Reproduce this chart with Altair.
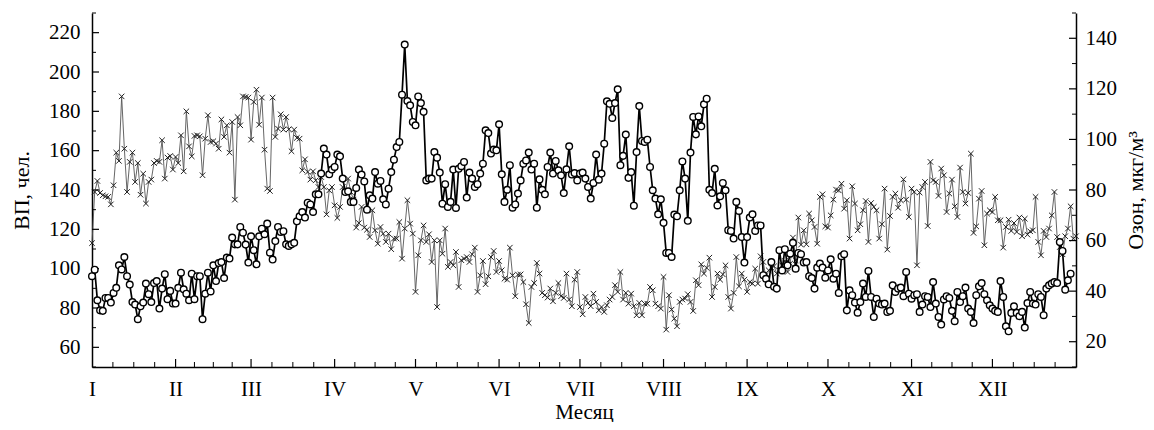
import json
import altair as alt
import pandas as pd

# Ozone (circles, right axis), daily values from 1 January
ozone = [
    45.9, 48.5, 36.4, 32.4, 32.2, 37.3, 37.3, 35.5, 39.3, 41.3, 50.2, 48.6, 53.5, 45.9, 42.6, 35.7,
    34.7, 28.9, 34.0, 35.5, 43.0, 38.8, 35.7, 43.2, 44.0, 33.1, 41.0, 46.7, 36.8, 40.1, 35.1, 35.1,
    41.3, 47.3, 40.7, 39.0, 36.4, 46.9, 36.8, 45.9, 45.9, 28.9, 39.0, 47.3, 39.9, 50.2,
    44.0, 51.1, 51.5, 45.2, 53.3, 52.9, 61.2, 58.5, 58.5, 65.4, 63.1, 58.4, 51.3, 61.7, 56.2, 50.6,
    61.7, 64.7, 62.5, 66.7, 55.2, 52.5, 59.8, 65.4, 63.4, 63.7, 58.5, 57.9, 58.5, 59.1, 67.6, 69.6,
    71.3, 69.1, 75.0, 74.3, 71.3, 78.3, 78.3, 86.5, 96.4, 94.0, 86.2, 88.1, 89.1, 94.0,
    93.3, 84.5, 79.2, 79.5, 75.3, 75.3, 80.8, 88.1, 86.1, 83.4, 72.2, 77.9, 76.6, 87.1, 82.5, 83.6,
    76.3, 74.3, 80.5, 87.1, 92.0, 97.0, 99.0, 117.7, 137.5, 115.2, 113.5, 106.9, 105.6, 117.0, 114.4,
    110.9, 83.8, 84.5, 84.5, 95.0, 92.8, 86.9, 74.6, 82.3, 73.3, 75.3, 88.1, 72.9, 88.4, 89.4,
    91.1, 77.0, 86.9, 84.5, 81.2, 82.3, 86.5, 90.4, 103.6, 102.5, 94.4, 96.0, 95.7, 106.0, 86.2, 75.3,
    80.1, 89.8, 73.0, 74.3, 78.6, 83.8, 90.4, 91.7, 94.8, 88.1, 90.4, 73.0, 84.2, 80.1, 78.3, 89.1,
    94.8, 86.5, 91.5, 87.8, 85.8, 78.8, 88.2, 97.3, 86.1, 86.7, 83.8, 86.5, 86.9, 84.5,
    81.2, 76.6, 82.8, 94.0, 84.1, 86.5, 98.3, 115.1, 114.1, 108.5, 114.4, 119.8, 89.8, 93.5, 101.9,
    84.8, 87.1, 73.8, 95.0, 113.2, 99.4, 99.0, 99.9, 89.1, 79.9, 76.6, 70.4, 76.3, 67.0, 55.1, 55.1,
    53.5, 70.3, 69.6, 79.9, 91.3, 84.5, 67.8, 94.8, 108.9, 102.0, 109.1, 105.2, 113.9, 116.1, 80.1,
    78.8, 88.4, 73.9, 77.5, 82.8, 79.9, 64.1, 63.8, 60.8, 75.3, 71.7, 61.4, 51.3, 61.4, 69.1, 70.4,
    63.8, 66.0, 66.0, 46.3, 44.9, 42.7, 51.5, 41.7, 41.0, 56.2, 48.2, 56.6, 50.2, 54.8, 59.1, 48.9,
    55.1, 54.6, 51.3, 51.5, 45.9, 45.2, 41.0, 49.3, 50.9, 49.3, 45.3, 48.2, 52.6, 44.9,
    46.9, 39.3, 53.8, 54.6, 32.4, 40.3, 38.4, 35.5, 31.5, 35.7, 43.0, 37.7, 48.0, 37.7, 29.8, 37.0,
    35.1, 34.7, 35.1, 31.8, 32.2, 42.3, 39.7, 41.0, 41.4, 38.0, 47.6, 39.0, 37.0, 38.4, 38.8, 31.8,
    34.7, 38.0, 37.7, 33.7, 43.6, 35.1, 29.8, 26.8, 36.7, 38.0, 37.3, 32.2, 28.1, 39.7,
    35.7, 38.0, 41.4, 33.1, 31.8, 27.4, 38.4, 41.9, 43.2, 38.8, 36.4, 34.4, 33.1, 32.2, 31.8, 44.0,
    37.7, 26.1, 24.1, 31.4, 34.0, 31.4, 30.1, 31.8, 25.6, 35.3, 39.7, 35.1, 34.7, 38.8, 37.7, 30.5,
    41.0, 42.3, 43.0, 43.6, 43.2, 59.4, 55.9, 40.6, 44.3, 46.9,
]

# ВП (crosses, left axis), daily values from 1 January
vp = [
    113.0, 139.0, 144.6, 138.5, 137.3, 136.8, 136.5, 132.7, 142.4, 159.0, 154.8, 187.6, 161.0, 139.0,
    154.3, 159.0, 144.1, 153.7, 137.6, 148.3, 133.1, 144.1, 145.3, 153.7, 154.8, 154.3, 165.3, 145.8,
    156.5, 157.3, 150.4, 156.8, 153.7, 167.8, 149.5, 180.0, 162.2, 157.1, 167.5, 167.8, 167.3, 147.5,
    166.1, 178.0, 164.4, 164.8, 163.6,
    161.0, 175.9, 167.0, 172.9, 159.0, 174.6, 135.1, 177.1, 172.9, 187.6, 187.3, 187.0, 165.6, 184.8,
    191.0, 173.2, 187.0, 160.5, 140.7, 139.5, 187.0, 167.0, 171.2, 178.5, 170.7, 177.1, 170.9, 159.7,
    170.7, 166.5, 166.1, 150.0, 155.6, 149.2, 145.3, 149.5, 144.9, 141.5, 146.6, 141.5, 127.6, 139.8,
    141.5, 132.2, 125.8, 131.4,
    141.5, 139.0, 145.8, 139.0, 135.1, 120.9, 123.2, 131.4, 120.9, 119.8, 116.1, 129.7, 119.5, 112.7,
    121.2, 117.8, 113.6, 117.8, 109.9, 115.3, 115.3, 123.7, 105.1, 120.4, 134.8, 122.9, 117.8, 88.2,
    106.8, 114.4, 122.0, 113.6, 117.5, 103.4, 114.4, 80.5, 114.4, 107.6, 120.4, 100.9, 103.4, 101.7,
    108.5, 90.7, 104.3, 105.1,
    105.9, 103.4, 107.3, 110.7, 88.2, 96.6, 103.9, 92.1, 96.1, 105.9, 109.0, 98.3, 103.9, 99.2, 94.9,
    94.4, 110.7, 96.6, 86.0, 97.0, 97.1, 93.2, 81.9, 72.4, 90.7, 92.7, 102.9, 97.5, 87.7, 86.5, 85.3,
    89.9, 83.4, 87.7, 92.7, 86.0, 85.1, 97.5, 84.3, 80.9, 94.4, 98.3, 80.5, 76.8, 85.6, 82.6,
    80.9, 87.3, 83.1, 78.8, 80.5, 78.0, 81.4, 84.3, 85.6, 91.6, 88.2, 98.3, 84.3, 87.7, 82.2, 87.3,
    80.9, 76.3, 82.6, 76.3, 82.2, 82.2, 90.7, 89.0, 82.2, 80.9, 79.7, 95.8, 69.0, 86.5, 79.2, 74.6,
    70.7, 83.1, 84.3, 84.8, 87.0, 83.1, 78.5, 94.1, 91.6, 102.2, 97.5, 100.4, 105.6, 85.6,
    90.7, 97.5, 94.4, 97.1, 101.7, 85.6, 79.7, 87.7, 105.9, 91.0, 97.5, 94.4, 88.2, 93.2, 92.4, 100.0,
    92.4, 106.3, 103.4, 94.9, 99.2, 100.5, 101.2, 97.5, 99.2, 101.7, 103.9, 98.3, 102.6, 115.8, 104.3,
    126.0, 112.2, 119.5, 112.4, 128.0, 124.6, 121.2, 112.7, 136.5, 137.8, 121.5, 120.9, 127.1, 135.1,
    140.2,
    139.8, 143.2, 130.5, 134.8, 115.3, 141.9, 133.1, 119.5, 122.6, 129.7, 134.4, 113.6, 133.4, 131.4,
    129.7, 115.3, 122.6, 140.7, 109.7, 126.8, 136.5, 138.2, 131.0, 134.8, 145.4, 135.1, 126.3, 140.7,
    139.0, 101.7, 138.7, 141.5, 144.1, 121.7, 154.3, 144.9, 144.1, 137.0, 150.9, 147.5, 128.8, 138.2,
    145.3, 131.7, 126.3, 151.4,
    139.0, 133.1, 138.5, 158.5, 118.2, 121.5, 135.6, 139.5, 111.9, 128.0, 129.7, 128.8, 136.5, 124.6,
    124.6, 110.7, 121.2, 124.9, 119.2, 123.2, 118.7, 126.0, 116.5, 125.4, 117.3, 119.0, 119.5, 136.5,
    113.6, 106.8, 119.2, 116.1, 120.4, 127.1, 139.0, 116.1, 111.0, 107.3, 116.5, 120.4, 131.7, 115.3,
    116.5,
]

month_starts = [0, 31, 59, 90, 120, 151, 181, 212, 243, 273, 304, 334, 365]
month_labels = ["I", "II", "III", "IV", "V", "VI", "VII", "VIII", "IX", "X", "XI", "XII"]
left_label_values = [60, 80, 100, 120, 140, 160, 180, 200, 220]
left_minor_values = [50, 70, 90, 110, 130, 150, 170, 190, 210, 230]
right_label_values = [20, 40, 60, 80, 100, 120, 140]
right_minor_values = [10, 30, 50, 70, 90, 110, 130, 150]

W, H = 984, 354
FONT = "Liberation Serif"

oz_df = pd.DataFrame({"day": list(range(len(ozone))), "v": ozone})
vp_df = pd.DataFrame({"day": list(range(len(vp))), "v": vp})

x_major = pd.DataFrame({"day": month_starts[1:-1]})
x_minor_days = []
for a, b in zip(month_starts[:-1], month_starts[1:]):
    for k in (1, 2, 3):
        x_minor_days.append(a + (b - a) * k / 4.0)
x_minor = pd.DataFrame({"day": x_minor_days})

xscale = alt.Scale(domain=[0, 365], nice=False, zero=False)
lscale = alt.Scale(domain=[50, 230], nice=False, zero=False)
rscale = alt.Scale(domain=[10, 150], nice=False, zero=False)

label_expr = "{}[indexof({}, datum.value)]".format(json.dumps(month_labels), json.dumps(month_starts[:-1]))

x_axis = alt.Axis(
    values=month_starts[:-1], labelExpr=label_expr, title="Месяц",
    ticks=False, tickSize=0, grid=False, domainColor="black", domainWidth=1.5,
    labelFont=FONT, labelFontSize=21, labelColor="black", labelPadding=28,
    labelBaseline="alphabetic", labelFlush=False, labelOverlap=False, labelBound=False,
    titleFont=FONT, titleFontSize=21, titleFontWeight="normal", titleColor="black",
    titleX=W / 2, titleY=51, titleBaseline="alphabetic", titleAlign="center",
)
left_axis = alt.Axis(
    orient="left", values=left_label_values, title="ВП, чел.",
    ticks=False, tickSize=0, grid=False, domainColor="black", domainWidth=1.5,
    labelFont=FONT, labelFontSize=21, labelColor="black", labelPadding=12,
    labelBaseline="middle", labelOverlap=False, labelFlush=False,
    titleFont=FONT, titleFontSize=22, titleFontWeight="normal", titleColor="black",
    titleAngle=270, titleX=-64, titleY=H / 2, titleBaseline="alphabetic", titleAlign="center",
)
right_axis = alt.Axis(
    orient="right", values=right_label_values, title="Озон, мкг/м³",
    ticks=False, tickSize=0, grid=False, domainColor="black", domainWidth=1.5,
    labelFont=FONT, labelFontSize=21, labelColor="black", labelPadding=9,
    labelBaseline="middle", labelOverlap=False, labelFlush=False,
    titleFont=FONT, titleFontSize=22, titleFontWeight="normal", titleColor="black",
    titleAngle=270, titleX=66, titleY=H / 2, titleBaseline="alphabetic", titleAlign="center",
)

X = alt.X("day:Q", scale=xscale, axis=x_axis)
YL = alt.Y("v:Q", scale=lscale, axis=left_axis)
YR = alt.Y("v:Q", scale=rscale, axis=right_axis)

vp_line = alt.Chart(vp_df).mark_line(color="#555555", strokeWidth=0.9).encode(x=X, y=YL)
vp_pts = alt.Chart(vp_df).mark_point(
    shape="M-1,-1L1,1M1,-1L-1,1", filled=False, stroke="#222222", strokeWidth=1.0, size=30, opacity=1
).encode(x=X, y=YL)

lt_major = alt.Chart(pd.DataFrame({"v": left_label_values})).mark_rule(color="black", strokeWidth=1.2).encode(
    y=YL, x=alt.value(0), x2=alt.value(7))
lt_minor = alt.Chart(pd.DataFrame({"v": left_minor_values})).mark_rule(color="black", strokeWidth=1.0).encode(
    y=YL, x=alt.value(0), x2=alt.value(4))
xt_major = alt.Chart(x_major).mark_rule(color="black", strokeWidth=1.2).encode(
    x=X, y=alt.value(H), y2=alt.value(H - 8))
xt_minor = alt.Chart(x_minor).mark_rule(color="black", strokeWidth=1.0).encode(
    x=X, y=alt.value(H), y2=alt.value(H - 5))

left_group = alt.layer(vp_line, vp_pts, lt_major, lt_minor, xt_major, xt_minor)

oz_line = alt.Chart(oz_df).mark_line(color="black", strokeWidth=1.7).encode(x=X, y=YR)
oz_pts = alt.Chart(oz_df).mark_point(
    shape="circle", filled=True, fill="white", stroke="black", strokeWidth=1.4, size=44, opacity=1
).encode(x=X, y=YR)
rt_major = alt.Chart(pd.DataFrame({"v": right_label_values})).mark_rule(color="black", strokeWidth=1.2).encode(
    y=YR, x=alt.value(W), x2=alt.value(W - 7))
rt_minor = alt.Chart(pd.DataFrame({"v": right_minor_values})).mark_rule(color="black", strokeWidth=1.0).encode(
    y=YR, x=alt.value(W), x2=alt.value(W - 4))

right_group = alt.layer(oz_line, oz_pts, rt_major, rt_minor)

chart = (
    alt.layer(left_group, right_group)
    .resolve_scale(y="independent")
    .properties(
        width=W, height=H,
        autosize=alt.AutoSizeParams(type="none"),
        padding={"left": 84, "top": 5, "right": 70, "bottom": 55},
        background="white",
    )
    .configure_view(stroke=None)
)

chart.save("out.html", embed_options={"renderer": "svg", "actions": False})
